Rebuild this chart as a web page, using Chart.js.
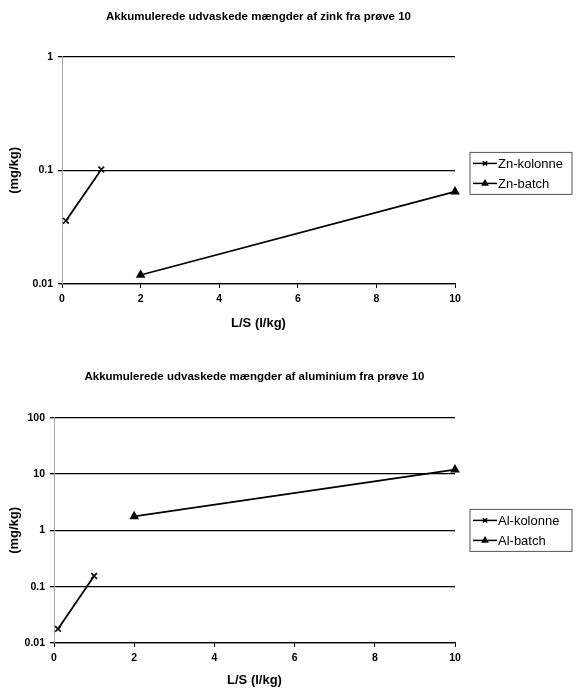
<!DOCTYPE html>
<html lang="da">
<head>
<meta charset="UTF-8">
<title>Akkumulerede udvaskede mængder</title>
<script src="https://cdn.jsdelivr.net/npm/chart.js"></script>
<style>
    body { margin: 0; background: #fff; }
    .wrap { position: absolute; left: 0; width: 578px; }
    #top { top: 0; height: 340px; }
    #bottom { top: 340px; height: 353px; }
</style>
</head>
<body>

<div class="wrap" id="top"><canvas id="zinc" width="578" height="340"></canvas></div>
<div class="wrap" id="bottom"><canvas id="alu" width="578" height="353"></canvas></div>

<script>
    // zink
    const znKolonneX = [0.1, 1];
    const znKolonneY = [0.036, 0.102];
    const znBatchX = [2, 10];
    const znBatchY = [0.012, 0.065];
    const znTicks = [0.01, 0.1, 1];

    // aluminium
    const alKolonneX = [0.1, 1];
    const alKolonneY = [0.0178, 0.155];
    const alBatchX = [2, 10];
    const alBatchY = [1.77, 12];
    const alTicks = [0.01, 0.1, 1, 10, 100];

    const xTicks = [0, 2, 4, 6, 8, 10];

    const FONT = 'Arial, "Liberation Sans", sans-serif';

    // legend box drawn to the right of the plot, like the excel one
    const boxLegend = {
        id: 'boxLegend',
        afterDraw(chart) {
            const ctx = chart.ctx;
            const a = chart.chartArea;
            const x = a.right + 15;
            const w = 102;
            const h = 42;
            const y = (a.top + a.bottom) / 2 - h / 2 + chart.options.plugins.boxLegend.shift;
            ctx.save();
            ctx.strokeStyle = '#555';
            ctx.lineWidth = 1;
            ctx.strokeRect(x, y, w, h);
            ctx.font = '13px ' + FONT;
            ctx.textBaseline = 'middle';
            ctx.fillStyle = '#000';
            chart.data.datasets.forEach((ds, i) => {
                const cy = y + 11 + i * 20;
                ctx.strokeStyle = '#000';
                ctx.lineWidth = 1.5;
                ctx.beginPath();
                ctx.moveTo(x + 3, cy);
                ctx.lineTo(x + 27, cy);
                ctx.stroke();
                Chart.helpers.drawPoint(ctx, {
                    pointStyle: ds.pointStyle, radius: 3, borderWidth: 1.5
                }, x + 15, cy);
                ctx.fillText(ds.label, x + 28, cy + 1);
            });
            ctx.restore();
        }
    };

    function series(label, xs, ys, style) {
        return {
            label: label,
            data: xs.map((x, i) => ({ x: x, y: ys[i] })),
            borderColor: '#000',
            backgroundColor: '#000',
            borderWidth: 1.8,
            pointStyle: style,
            pointRadius: 4,
            pointBorderWidth: 1.6,
            pointBorderColor: '#000',
            pointBackgroundColor: '#000',
            clip: false,
            tension: 0
        };
    }

    function makeChart(id, opt) {
        return new Chart(document.getElementById(id), {
            type: 'line',
            data: { datasets: opt.datasets },
            options: {
                responsive: false,
                animation: false,
                layout: { padding: { left: 0, right: 123, top: 0, bottom: 0 } },
                plugins: {
                    legend: { display: false },
                    tooltip: { enabled: false },
                    boxLegend: { shift: opt.legendShift },
                    title: {
                        display: true,
                        fullSize: false,
                        text: opt.title,
                        color: '#000',
                        font: { family: FONT, size: 11.5, weight: 'bold' },
                        padding: { top: opt.titleTop, bottom: opt.titleBottom }
                    }
                },
                scales: {
                    x: {
                        type: 'linear',
                        min: 0,
                        max: 10,
                        afterBuildTicks: s => { s.ticks = xTicks.map(v => ({ value: v })); },
                        afterFit: s => { s.height = opt.xHeight; },
                        grid: { display: true, drawOnChartArea: false, drawTicks: true, tickLength: 4, color: '#000' },
                        border: { display: true, color: '#000', width: 1.3 },
                        ticks: { color: '#000', padding: 5, font: { family: FONT, size: 10.5, weight: 'bold' } },
                        title: {
                            display: true,
                            text: 'L/S (l/kg)',
                            color: '#000',
                            font: { family: FONT, size: 13, weight: 'bold' },
                            padding: { top: opt.xTitlePad, bottom: opt.xTitlePad }
                        }
                    },
                    y: {
                        type: 'logarithmic',
                        min: opt.yTicks[0],
                        max: opt.yTicks[opt.yTicks.length - 1],
                        afterBuildTicks: s => { s.ticks = opt.yTicks.map(v => ({ value: v })); },
                        afterFit: s => { s.width = opt.yWidth; },
                        grid: { color: '#000', lineWidth: 1.3, tickLength: 4, drawTicks: true },
                        border: { display: true, color: '#aaa', width: 1 },
                        ticks: {
                            color: '#000',
                            padding: 5,
                            font: { family: FONT, size: 10.5, weight: 'bold' },
                            callback: v => String(v)
                        },
                        title: {
                            display: true,
                            text: '(mg/kg)',
                            color: '#000',
                            font: { family: FONT, size: 13, weight: 'bold' },
                            padding: { top: 7, bottom: 7 }
                        }
                    }
                }
            },
            plugins: [boxLegend]
        });
    }

    makeChart('zinc', {
        title: 'Akkumulerede udvaskede mængder af zink fra prøve 10',
        datasets: [
            series('Zn-kolonne', znKolonneX, znKolonneY, 'crossRot'),
            series('Zn-batch', znBatchX, znBatchY, 'triangle')
        ],
        yTicks: znTicks,
        titleTop: 10,
        titleBottom: 33,
        xHeight: 56,
        xTitlePad: 9,
        yWidth: 62,
        legendShift: 3
    });

    makeChart('alu', {
        title: 'Akkumulerede udvaskede mængder af aluminium fra prøve 10',
        datasets: [
            series('Al-kolonne', alKolonneX, alKolonneY, 'crossRot'),
            series('Al-batch', alBatchX, alBatchY, 'triangle')
        ],
        yTicks: alTicks,
        titleTop: 30,
        titleBottom: 34,
        xHeight: 50,
        xTitlePad: 5,
        yWidth: 54,
        legendShift: 0
    });
</script>
</body>
</html>
